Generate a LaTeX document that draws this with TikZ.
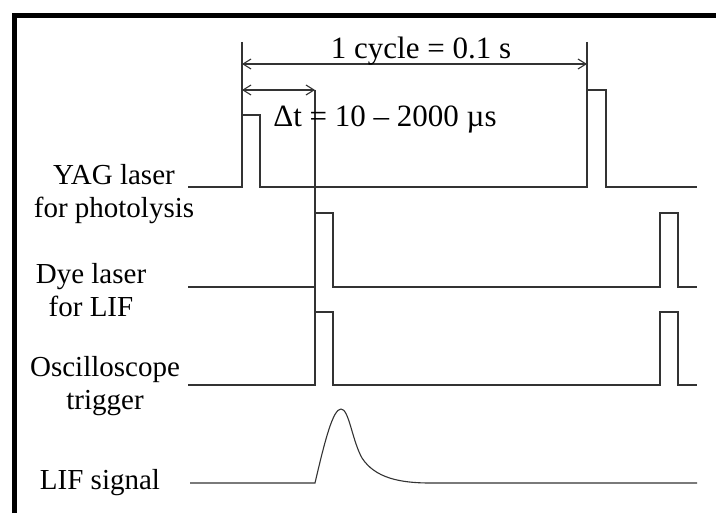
\documentclass[tikz,border=0pt]{standalone}
\usepackage{fontspec}
\setmainfont{Liberation Serif}
\usetikzlibrary{calc,arrows.meta}

\begin{document}
\begin{tikzpicture}[x=0.5pt, y=-0.5pt,
  sig/.style={black!80, line width=0.55pt},
  dim/.style={sig, {Straight Barb[length=4pt,width=5pt]}-{Straight Barb[length=4pt,width=5pt]}},
  lbl/.style={align=center, anchor=north, inner sep=0pt, font=\fontsize{14.5}{16.5}\selectfont},
  top/.style={anchor=base, inner sep=0pt, font=\fontsize{15.5}{18}\selectfont}]
  \useasboundingbox (0,0) rectangle (716,513);
  % frame
  \draw[line width=2.5pt] (14.5,513) -- (14.5,15.5) -- (716,15.5);
  \coordinate (Y1) at (242,187);
  \coordinate (Y2) at (587,187);
  \coordinate (T0) at (315,385);
  % YAG laser
  \draw[sig] (188,187) -- (Y1) -- (242,115) -- (260,115) -- (260,187)
    -- (Y2) -- (587,90) -- (606,90) -- (606,187) -- (697,187);
  % dye laser, trigger
  \foreach \y/\h in {287/213, 385/312}{
    \draw[sig] (188,\y) -- (315,\y) -- (315,\h) -- (333,\h) -- (333,\y)
      -- (660,\y) -- (660,\h) -- (678,\h) -- (678,\y) -- (697,\y);
  }
  % LIF signal
  \draw[sig] (190,483) -- (315,483) .. controls (325,440) and (333,409) .. (341,409)
    .. controls (349,409) and (352,440) .. (362,458)
    .. controls (375,478) and (400,483) .. (430,483) -- (697,483);
  % extension lines
  \coordinate (C1) at (242,42);
  \coordinate (C2) at (587,42);
  \coordinate (D2) at (315,90);
  \draw[sig] (C1) -- (Y1);
  \draw[sig] (C2) -- (Y2);
  \draw[sig] (D2) -- (T0);
  \draw[dim] ($(C1)+(0,22)$) -- ($(C2)+(0,22)$);
  \draw[dim] (242,90) -- (D2);
  \node[top] (cycle) at (421,59) {1 cycle = 0.1 s};
  \node[top] (delay) at (385,127) {Δt = 10 – 2000 µs};
  % labels
  \node[lbl] (yag) at (114,164) {YAG laser\\for photolysis};
  \node[lbl] (dye) at (91,263) {Dye laser\\for LIF};
  \node[lbl] (osc) at (105,356) {Oscilloscope\\trigger};
  \node[lbl] (lif) at (100,469) {LIF signal};
\end{tikzpicture}
\end{document}
